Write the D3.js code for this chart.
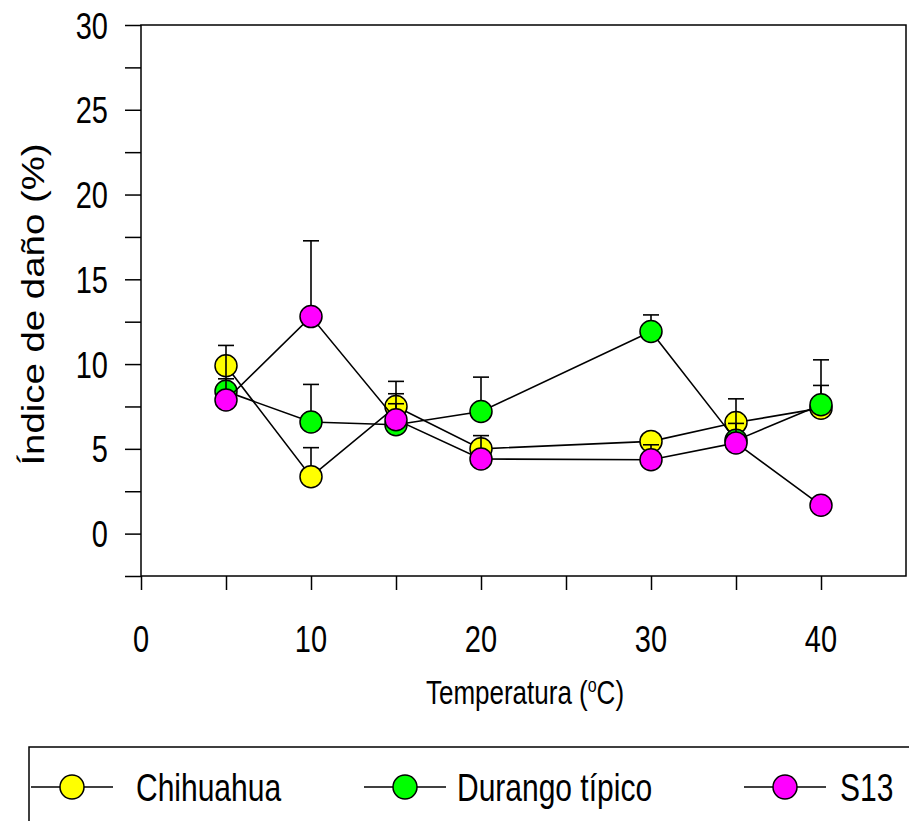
<!DOCTYPE html>
<html><head><meta charset="utf-8">
<script src="https://cdn.jsdelivr.net/npm/d3@7"></script>
<style>body{margin:0;background:#fff}svg{display:block}text{font-family:"Liberation Sans",Arial,sans-serif;fill:#000}</style>
</head><body>
<svg id="c" width="909" height="821"></svg>
<script>
const temps = [5, 10, 15, 20, 30, 35, 40];
const seriesNames = ["Chihuahua", "Durango típico", "S13"];
const seriesColors = ["#ffff00", "#00ff00", "#ff00ff"];
const chihuahua = [9.9, 3.36, 7.5, 5.0, 5.44, 6.55, 7.4];
const chihuahuaErr = [0, 1.71, 0.75, 0, 0, 0, 1.34];
const durango = [8.39, 6.58, 6.42, 7.2, 11.92, 5.5, 7.6];
const durangoErr = [0.74, 2.22, 1.24, 2.03, 0.98, 2.45, 2.65];
const s13 = [7.88, 12.8, 6.72, 4.4, 4.36, 5.35, 1.67];
const s13Err = [3.22, 4.47, 2.26, 1.38, 0.88, 1.15, 0];
const xTicks = [0, 5, 10, 15, 20, 25, 30, 35, 40];
const xLabels = [0, 10, 20, 30, 40];
const yTicks = [-2.5, 0, 2.5, 5, 7.5, 10, 12.5, 15, 17.5, 20, 22.5, 25, 27.5, 30];
const yLabels = [0, 5, 10, 15, 20, 25, 30];

const values = [chihuahua, durango, s13];
const errs = [chihuahuaErr, durangoErr, s13Err];

const SY = 1.3; // vertical stretch of the text in the original figure
const svg = d3.select("#c");
const L = 141, R = 906, T = 25, B = 576;
const x = d3.scaleLinear().domain([0, 45]).range([L, R]);
const y = d3.scaleLinear().domain([-2.5, 30]).range([B, T]);

// frame
svg.append("rect").attr("x", L).attr("y", T).attr("width", R - L).attr("height", B - T)
  .attr("fill", "none").attr("stroke", "#000").attr("stroke-width", 1.5);

// axes
const xAxis = d3.axisBottom(x).tickValues(xTicks).tickSize(14).tickFormat("");
svg.append("g").attr("transform", `translate(0,${B})`).call(xAxis)
  .call(g => g.select(".domain").remove())
  .call(g => g.selectAll("line").attr("stroke-width", 1.5));
const yAxis = d3.axisLeft(y).tickValues(yTicks).tickSize(16).tickFormat("");
svg.append("g").attr("transform", `translate(${L},0)`).call(yAxis)
  .call(g => g.select(".domain").remove())
  .call(g => g.selectAll("line").attr("stroke-width", 1.5));

svg.append("g").selectAll("text").data(xLabels).join("text")
  .attr("transform", d => `translate(${x(d)},652) scale(1,${SY})`).attr("text-anchor", "middle")
  .style("font-size", "29px").text(d => d);
svg.append("g").selectAll("text").data(yLabels).join("text")
  .attr("transform", d => `translate(108,${y(d)}) scale(1,${SY})`).attr("dy", "0.36em").attr("text-anchor", "end")
  .style("font-size", "29px").text(d => d);

// axis titles
const xt = svg.append("text").attr("transform", `translate(525,704) scale(1,${SY})`).attr("text-anchor", "middle")
  .style("font-size", "26px");
xt.append("tspan").text("Temperatura (");
xt.append("tspan").attr("dy", -9).style("font-size", "16px").text("o");
xt.append("tspan").attr("dy", 9).text("C)");

svg.append("text").attr("transform", `translate(44,${(T + B) / 2 + 4}) scale(1,1.2) rotate(-90)`)
  .attr("text-anchor", "middle").style("font-size", "32px").text("Índice de daño (%)");

// series
const line = d3.line().x((d, i) => x(temps[i])).y(d => y(d));
values.forEach((vals, si) => {
  const g = svg.append("g");
  g.append("path").attr("d", line(vals)).attr("fill", "none").attr("stroke", "#000").attr("stroke-width", 1.6);
  const eb = g.append("g");
  vals.forEach((v, i) => {
    const e = errs[si][i];
    if (e > 0) {
      eb.append("line").attr("x1", x(temps[i])).attr("x2", x(temps[i]))
        .attr("y1", y(v)).attr("y2", y(v + e)).attr("stroke", "#000").attr("stroke-width", 1.6);
      eb.append("line").attr("x1", x(temps[i]) - 8).attr("x2", x(temps[i]) + 8)
        .attr("y1", y(v + e)).attr("y2", y(v + e)).attr("stroke", "#000").attr("stroke-width", 1.6);
    }
  });
  g.selectAll("circle").data(vals).join("circle")
    .attr("cx", (d, i) => x(temps[i])).attr("cy", d => y(d)).attr("r", 11)
    .attr("fill", seriesColors[si]).attr("stroke", "#000").attr("stroke-width", 1.5);
});

// legend
svg.append("rect").attr("x", 29).attr("y", 747).attr("width", 900).attr("height", 100)
  .attr("fill", "none").attr("stroke", "#000").attr("stroke-width", 1.5);
const legX = [72, 405, 785];
const legTx = [136, 457, 840];
seriesNames.forEach((n, i) => {
  const g = svg.append("g");
  g.append("line").attr("x1", legX[i] - 41).attr("x2", legX[i] + 41).attr("y1", 787).attr("y2", 787)
    .attr("stroke", "#000").attr("stroke-width", 1.5);
  g.append("circle").attr("cx", legX[i]).attr("cy", 787).attr("r", 12)
    .attr("fill", seriesColors[i]).attr("stroke", "#000").attr("stroke-width", 1.5);
  g.append("text").attr("transform", `translate(${legTx[i]},787) scale(1,${SY})`).attr("dy", "0.36em")
    .style("font-size", "30px").text(n);
});
</script>
</body></html>
